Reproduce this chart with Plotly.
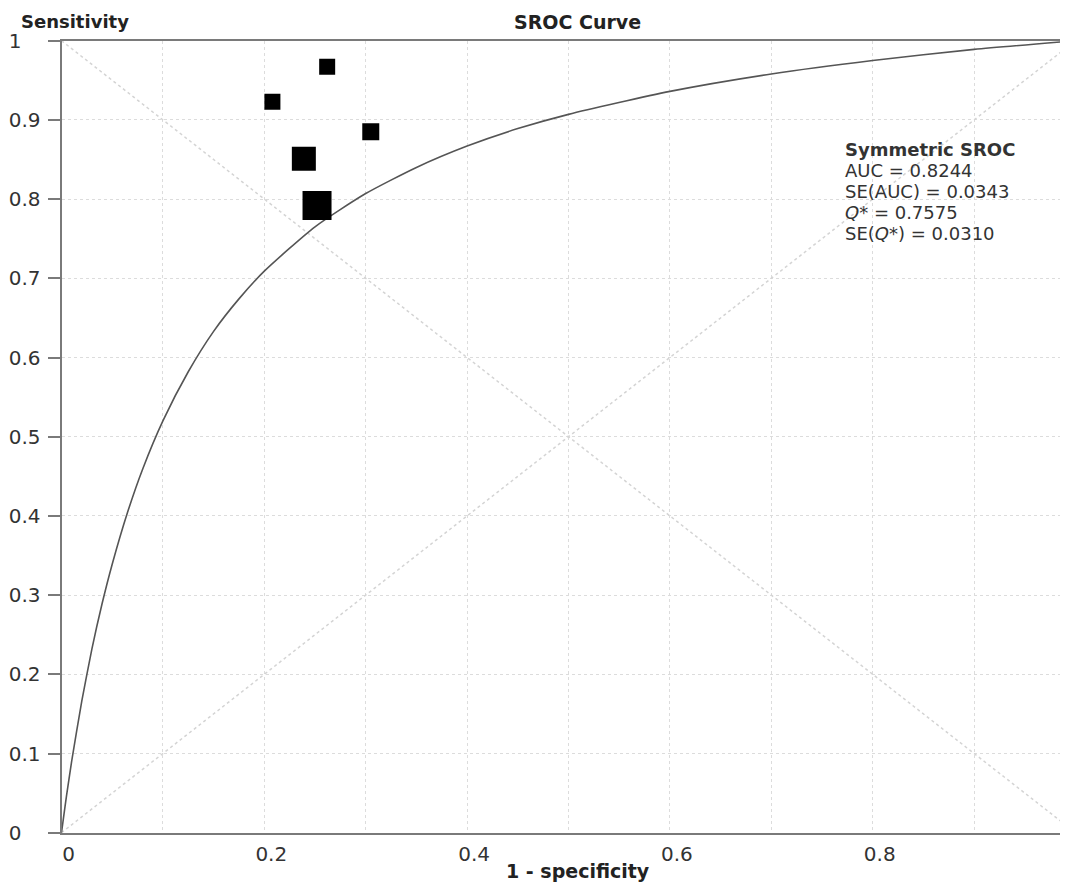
import plotly.graph_objects as go

# Study points (1 - specificity, sensitivity, marker size ~ weight)
study_fpr = [0.262, 0.208, 0.305, 0.239, 0.252]
study_sens = [0.967, 0.923, 0.885, 0.851, 0.792]
study_size = [16, 16, 17, 24, 29]

# Symmetric SROC curve
curve_fpr = [0, 0.002, 0.005, 0.01, 0.02, 0.03, 0.04, 0.05, 0.065, 0.08, 0.1, 0.125,
             0.15, 0.175, 0.2, 0.25, 0.3, 0.35, 0.4, 0.45, 0.5, 0.6, 0.7, 0.8, 0.9, 1.0]
curve_sens = [0, 0.019, 0.047, 0.090, 0.166, 0.232, 0.289, 0.339, 0.404, 0.459, 0.520, 0.582,
              0.633, 0.674, 0.709, 0.765, 0.807, 0.840, 0.867, 0.889, 0.907, 0.936, 0.958,
              0.975, 0.989, 1.0]

# Reference diagonals
diag_x = [0, 1]
diag_up = [0, 1]
diag_down = [1, 0]

NB = "\u00a0"
y_ticks = [0, 0.1, 0.2, 0.3, 0.4, 0.5, 0.6, 0.7, 0.8, 0.9, 1]
y_ticktext = ["0" + NB * 3, "0.1", "0.2", "0.3", "0.4", "0.5", "0.6", "0.7", "0.8", "0.9",
              "1" + NB * 3]
x_ticks = [0, 0.2, 0.4, 0.6, 0.8]
x_ticktext = ["0", "0.2", "0.4", "0.6", "0.8"]

stats_lines = ["<b>Symmetric SROC</b>", "AUC = 0.8244", "SE(AUC) = 0.0343",
               "<i>Q</i>* = 0.7575", "SE(<i>Q</i>*) = 0.0310"]

# page body has an 8px margin: the figure is placed at (8, 8) in the window
OFF = 8
W, H = 1068 - OFF, 882 - OFF
FONT = "DejaVu Sans"


def px(xp):
    return (xp - OFF) / W


def py(yp):
    return 1 - (yp - OFF) / H


fig = go.Figure()
fig.add_trace(go.Scatter(x=diag_x, y=diag_up, mode="lines",
                         line=dict(color="#d4d4d4", width=1.5, dash="dot"), hoverinfo="skip"))
fig.add_trace(go.Scatter(x=diag_x, y=diag_down, mode="lines",
                         line=dict(color="#d4d4d4", width=1.5, dash="dot"), hoverinfo="skip"))
fig.add_trace(go.Scatter(x=curve_fpr, y=curve_sens, mode="lines",
                         line=dict(color="#555555", width=1.6, shape="spline", smoothing=0.6)))
fig.add_trace(go.Scatter(x=study_fpr, y=study_sens, mode="markers", opacity=1,
                         marker=dict(symbol="square", size=study_size, color="#000000",
                                     opacity=1, line=dict(width=0))))

x_max = (1068 - 61.5) / 1014.0

fig.update_layout(
    width=W, height=H,
    margin=dict(l=0, r=0, t=0, b=0),
    paper_bgcolor="white", plot_bgcolor="white",
    showlegend=False,
    font=dict(family=FONT, size=19, color="#333333"),
    xaxis=dict(domain=[px(61.5), 1], range=[0, x_max], tickvals=x_ticks, ticktext=x_ticktext,
               showgrid=True, gridcolor="#dcdcdc", griddash="dot", gridwidth=1,
               minor=dict(dtick=0.1, tick0=0, showgrid=True, gridcolor="#dcdcdc",
                          griddash="dot", gridwidth=1, ticks=""),
               showline=True, linecolor="#7a7a7a", linewidth=2, mirror=True,
               ticks="", ticklabelshift=7, ticklabelstandoff=2,
               tickfont=dict(family=FONT, size=20, color="#333333"),
               zeroline=False, automargin=False),
    yaxis=dict(domain=[py(832.7), py(40.7)], range=[0, 1], tickvals=y_ticks, ticktext=y_ticktext,
               showgrid=True, gridcolor="#dcdcdc", griddash="dot", gridwidth=1,
               showline=True, linecolor="#7a7a7a", linewidth=2,
               ticks="outside", ticklen=12, tickcolor="#7a7a7a", tickwidth=2,
               ticklabelstandoff=3,
               tickfont=dict(family=FONT, size=20, color="#333333"),
               zeroline=False, automargin=False),
)

fig.add_annotation(text="<b>SROC Curve</b>", xref="paper", yref="paper",
                   x=px(577), y=py(9), xanchor="center", yanchor="top", showarrow=False,
                   font=dict(family=FONT, size=19, color="#222222"))
fig.add_annotation(text="<b>Sensitivity</b>", xref="paper", yref="paper",
                   x=px(19), y=py(9), xanchor="left", yanchor="top", showarrow=False,
                   font=dict(family=FONT, size=18, color="#222222"))
fig.add_annotation(text="<b>1 - specificity</b>", xref="paper", yref="paper",
                   x=px(578), y=py(871), xanchor="center", yanchor="middle", showarrow=False,
                   font=dict(family=FONT, size=19, color="#222222"))

line_y = [149.1, 170.3, 191.5, 212.7, 233.9]
for txt, yy in zip(stats_lines, line_y):
    fig.add_annotation(text=txt, xref="paper", yref="paper", x=px(843), y=py(yy),
                       xanchor="left", yanchor="middle", showarrow=False,
                       font=dict(family=FONT, size=18, color="#333333"))

fig.write_html("out.html")
